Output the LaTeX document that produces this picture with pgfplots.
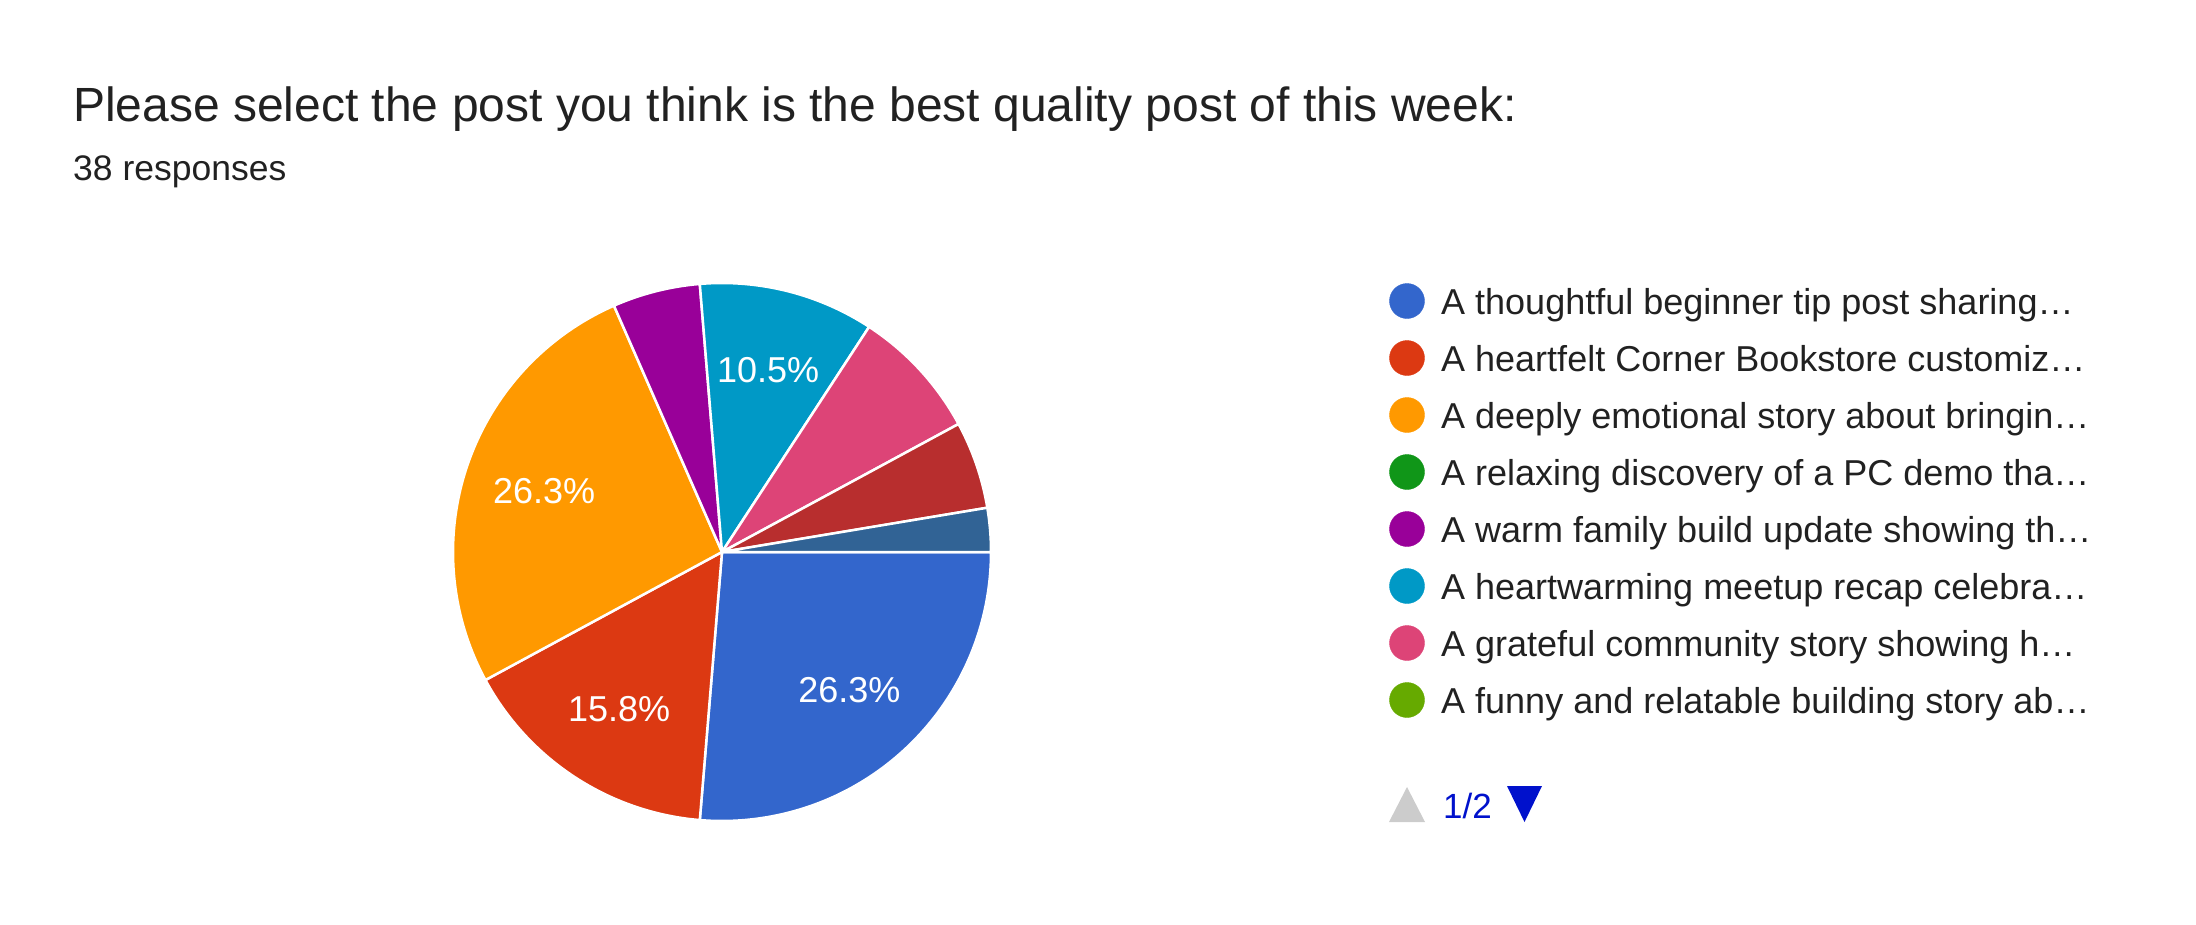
\documentclass[border=0pt]{standalone}
\usepackage{pgfplots}
\pgfplotsset{compat=1.18}
\usepackage{pgfplotstable}
\usepackage{fontspec}
\setmainfont{Liberation Sans}
\definecolor{txt}{HTML}{212121}
\definecolor{c1}{HTML}{3366CC}
\definecolor{c2}{HTML}{DC3912}
\definecolor{c3}{HTML}{FF9900}
\definecolor{c4}{HTML}{109618}
\definecolor{c5}{HTML}{990099}
\definecolor{c6}{HTML}{0099C6}
\definecolor{c7}{HTML}{DD4477}
\definecolor{c8}{HTML}{66AA00}
\definecolor{c9}{HTML}{B82E2E}
\definecolor{c10}{HTML}{316395}
\definecolor{pager}{HTML}{0011CC}
\definecolor{pagergrey}{HTML}{CCCCCC}
% responses per answer, in pie order (clockwise from 3 o'clock)
\pgfplotstableread{
value color
10 c1
6  c2
10 c3
0  c4
2  c5
4  c6
3  c7
0  c8
2  c9
1  c10
}\piedata
\newcommand\titlefont{\fontsize{48}{56}\selectfont}
\newcommand\subfont{\fontsize{35.5}{42}\selectfont}
\newcommand\legfont{\fontsize{36}{42}\selectfont}
\newcommand\labfont{\fontsize{36}{42}\selectfont}
\begin{document}
\begin{tikzpicture}
\begin{axis}[
  at={(0,0)}, anchor=south west,
  scale only axis, width=2196pt, height=924pt,
  xmin=0, xmax=2196, ymin=0, ymax=924, y dir=reverse,
  hide axis, clip=false,
]
% pie slices
\def\pieCum{0}
\pgfplotsforeachungrouped \pieI in {0,...,9}{%
  \pgfplotstablegetelem{\pieI}{value}\of\piedata \let\pieV\pgfplotsretval
  \pgfplotstablegetelem{\pieI}{color}\of\piedata \let\pieC\pgfplotsretval
  \pgfmathsetmacro\pieA{-\pieCum*360/38}%
  \pgfmathsetmacro\pieCum{\pieCum+\pieV}%
  \pgfmathsetmacro\pieB{-\pieCum*360/38}%
  \ifnum\pieV>0
    \edef\pieTemp{\noexpand\fill[\pieC, draw=white, line width=2.5pt, line join=round]
      (axis cs:722,552) -- ++(\pieA:269pt) arc[start angle=\pieA, end angle=\pieB, radius=269pt] -- cycle;}%
    \pieTemp
  \fi
}
% percentage labels
\def\pieCum{0}
\pgfplotsforeachungrouped \pieI in {0,...,9}{%
  \pgfplotstablegetelem{\pieI}{value}\of\piedata \let\pieV\pgfplotsretval
  \pgfmathsetmacro\pieA{-\pieCum*360/38}%
  \pgfmathsetmacro\pieCum{\pieCum+\pieV}%
  \pgfmathsetmacro\pieB{-\pieCum*360/38}%
  \pgfmathsetmacro\pieM{(\pieA+\pieB)/2}%
  \pgfmathtruncatemacro\pieTenths{round(\pieV*1000/38)}%
  \pgfmathtruncatemacro\pieInt{\pieTenths/10}%
  \pgfmathtruncatemacro\pieDec{\pieTenths-10*\pieInt}%
  \ifnum\pieV>3
    \edef\pieTemp{\noexpand\path (axis cs:722,552) ++(\pieM:188pt)
      node[text=white, font=\noexpand\labfont] {\pieInt.\pieDec\noexpand\%};}%
    \pieTemp
  \fi
}
% legend markers
\addplot[only marks, mark=*, mark size=17.5pt, color=c1] coordinates {(1407,301)};
\addplot[only marks, mark=*, mark size=17.5pt, color=c2] coordinates {(1407,358)};
\addplot[only marks, mark=*, mark size=17.5pt, color=c3] coordinates {(1407,415)};
\addplot[only marks, mark=*, mark size=17.5pt, color=c4] coordinates {(1407,472)};
\addplot[only marks, mark=*, mark size=17.5pt, color=c5] coordinates {(1407,529)};
\addplot[only marks, mark=*, mark size=17.5pt, color=c6] coordinates {(1407,586)};
\addplot[only marks, mark=*, mark size=17.5pt, color=c7] coordinates {(1407,643)};
\addplot[only marks, mark=*, mark size=17.5pt, color=c8] coordinates {(1407,700)};
% legend texts
\node[anchor=base west, text=txt, font=\legfont, inner sep=0pt] at (axis cs:1441,314) {A thoughtful beginner tip post sharing…};
\node[anchor=base west, text=txt, font=\legfont, inner sep=0pt] at (axis cs:1441,371) {A heartfelt Corner Bookstore customiz…};
\node[anchor=base west, text=txt, font=\legfont, inner sep=0pt] at (axis cs:1441,428) {A deeply emotional story about bringin…};
\node[anchor=base west, text=txt, font=\legfont, inner sep=0pt] at (axis cs:1441,485) {A relaxing discovery of a PC demo tha…};
\node[anchor=base west, text=txt, font=\legfont, inner sep=0pt] at (axis cs:1441,542) {A warm family build update showing th…};
\node[anchor=base west, text=txt, font=\legfont, inner sep=0pt] at (axis cs:1441,599) {A heartwarming meetup recap celebra…};
\node[anchor=base west, text=txt, font=\legfont, inner sep=0pt] at (axis cs:1441,656) {A grateful community story showing h…};
\node[anchor=base west, text=txt, font=\legfont, inner sep=0pt] at (axis cs:1441,713) {A funny and relatable building story ab…};
% pager
\fill[pagergrey] (axis cs:1389,822) -- (axis cs:1425,822) -- (axis cs:1407,787) -- cycle;
\fill[pager] (axis cs:1507,786) -- (axis cs:1542,786) -- (axis cs:1524.5,822) -- cycle;
\node[anchor=base west, text=pager, font=\fontsize{35}{42}\selectfont, inner sep=0pt] at (axis cs:1443,818) {1/2};
% titles
\node[anchor=base west, text=txt, font=\titlefont, inner sep=0pt] at (axis cs:73,121) {Please select the post you think is the best quality post of this week:};
\node[anchor=base west, text=txt, font=\subfont, inner sep=0pt] at (axis cs:73,180) {38 responses};
\end{axis}
\path[use as bounding box] (0,0) rectangle (2196pt,924pt);
\end{tikzpicture}
\end{document}
